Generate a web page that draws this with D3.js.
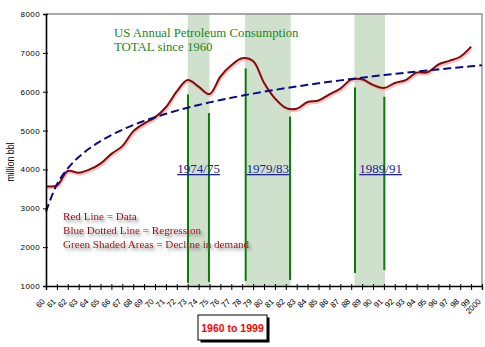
<!DOCTYPE html>
<html><head><meta charset="utf-8">
<script src="https://cdn.jsdelivr.net/npm/d3@7"></script>
<style>body{margin:0;background:#fff;overflow:hidden} svg{display:block}</style>
</head><body>
<script>
// ---- data ----
const years = [1960,1961,1962,1963,1964,1965,1966,1967,1968,1969,1970,1971,1972,1973,1974,1975,1976,1977,1978,1979,1980,1981,1982,1983,1984,1985,1986,1987,1988,1989,1990,1991,1992,1993,1994,1995,1996,1997,1998,1999];
const consumption = [3570,3590,3960,3915,4000,4150,4400,4600,4980,5180,5340,5600,6010,6300,6130,5940,6390,6680,6860,6790,6230,5830,5585,5560,5735,5775,5930,6080,6310,6320,6175,6095,6225,6300,6490,6500,6700,6795,6900,7160];
const regressionYears = [1960,1961,1962,1963,1964,1965,1966,1967,1968,1969,1970,1971,1972,1973,1974,1975,1976,1977,1978,1979,1980,1981,1982,1983,1984,1985,1986,1987,1988,1989,1990,1991,1992,1993,1994,1995,1996,1997,1998,1999,2000];
const regression = [2913,3616,4027,4319,4545,4730,4886,5021,5141,5248,5344,5433,5514,5589,5659,5725,5786,5844,5898,5951,6001,6047,6092,6136,6177,6217,6255,6292,6327,6362,6395,6428,6459,6488,6518,6547,6574,6602,6628,6654,6679];
const yTicks = [1000,2000,3000,4000,5000,6000,7000,8000];
const xTickLabels = ["60","61","62","63","64","65","66","67","68","69","70","71","72","73","74","75","76","77","78","79","80","81","82","83","84","85","86","87","88","89","90","91","92","93","94","95","96","97","98","99","2000"];
const declineStart = [1973, 1978.25, 1988.3];
const declineEnd = [1975, 1982.45, 1991.1];
const declineLabels = ["1974/75","1979/83","1989/91"];
const declineLabelYear = [1974, 1980.35, 1990.7];
const markerYears = [1973.03, 1974.95, 1978.32, 1982.39, 1988.35, 1991.04];
const markerTop = [5930, 5450, 6600, 5360, 6110, 5870];
const markerBottom = [1080, 1100, 1130, 1155, 1335, 1410];
const titleLines = ["US Annual Petroleum Consumption","TOTAL since 1960"];
const legendLines = ["Red Line = Data","Blue Dotted Line = Regression","Green Shaded Areas = Decline in demand"];
const yAxisTitle = "million bbl";
const periodLabel = "1960 to 1999";

// ---- chart ----
const W = 485, H = 347;
const svg = d3.select("body").append("svg").attr("width", W).attr("height", H);
const defs = svg.append("defs");
const f = defs.append("filter").attr("id","tshadow").attr("x","-10%").attr("y","-30%").attr("width","130%").attr("height","180%");
f.append("feDropShadow").attr("dx",2).attr("dy",2.5).attr("stdDeviation",1.4).attr("flood-color","#6f6f6f").attr("flood-opacity",0.85);

const x = d3.scaleLinear().domain([1960, 2000]).range([46, 482]);
const y = d3.scaleLinear().domain([1000, 8000]).range([286, 14]);

// shaded areas
svg.append("g").selectAll("rect").data(declineStart).join("rect")
  .attr("x", d => x(d)).attr("y", y(8000))
  .attr("width", (d,i) => x(declineEnd[i]) - x(d))
  .attr("height", y(1000) - y(8000))
  .attr("fill", "#cfe1cd");

// plot frame (top/right gray)
svg.append("path").attr("d", `M${x(1960)},${y(8000)}H${x(2000)}V${y(1000)}`)
  .attr("fill","none").attr("stroke","#8a8a8a").attr("stroke-width",1.3);

// green marker lines
svg.append("g").selectAll("line").data(markerYears).join("line")
  .attr("x1", d => x(d)).attr("x2", d => x(d))
  .attr("y1", (d,i) => y(markerTop[i])).attr("y2", (d,i) => y(markerBottom[i]))
  .attr("stroke", "#0c7a0c").attr("stroke-width", 2);

// data line
const line = d3.line().x((d,i) => x(years[i])).y(d => y(d)).curve(d3.curveCatmullRom.alpha(0.5));
svg.append("path").datum(consumption).attr("d", line)
  .attr("transform","translate(0.8,1.8)")
  .attr("fill","none").attr("stroke","#eab3b3").attr("stroke-width",2.4).attr("stroke-opacity",0.75);
svg.append("path").datum(consumption).attr("d", line)
  .attr("fill","none").attr("stroke","#850a0a").attr("stroke-width",2);

// regression line
const rline = d3.line().x((d,i) => x(regressionYears[i])).y(d => y(d)).curve(d3.curveCatmullRom.alpha(0.5));
svg.append("path").datum(regression).attr("d", rline)
  .attr("fill","none").attr("stroke","#0a0a85").attr("stroke-width",2)
  .attr("stroke-dasharray","8,4");

// axes
const yAxis = svg.append("g").attr("transform", `translate(${x(1960)},0)`)
  .call(d3.axisLeft(y).tickValues(yTicks).tickSize(3).tickPadding(3).tickFormat(d3.format("d")));
yAxis.select(".domain").attr("stroke","#000").attr("stroke-width",1.6);
yAxis.selectAll(".tick line").attr("x1",2).attr("x2",-3).attr("stroke","#000");
yAxis.selectAll(".tick text").attr("font-family","Liberation Sans, Arial, sans-serif")
  .attr("font-size","8px").attr("letter-spacing","0.4px").attr("fill","#000");

const xAxis = svg.append("g").attr("transform", `translate(0,${y(1000)})`)
  .call(d3.axisBottom(x).tickValues(regressionYears).tickSize(4).tickFormat((d,i) => xTickLabels[i]));
xAxis.select(".domain").attr("stroke","#000").attr("stroke-width",1.4);
xAxis.selectAll(".tick line").attr("y1",-2).attr("y2",4).attr("stroke","#000");
xAxis.selectAll(".tick text")
  .attr("font-family","Liberation Sans, Arial, sans-serif").attr("font-size","8px").attr("fill","#000")
  .attr("text-anchor","end").attr("dy",null).attr("y",null)
  .attr("transform","translate(-1,16) rotate(-45)");

// y axis title
svg.append("text").attr("transform","translate(14,162) rotate(-90)")
  .attr("text-anchor","middle").attr("font-family","Liberation Sans, Arial, sans-serif")
  .attr("font-size","10.5px").attr("textLength",39).attr("lengthAdjust","spacingAndGlyphs")
  .attr("fill","#000").text(yAxisTitle);

// title
svg.append("g").selectAll("text").data(titleLines).join("text")
  .attr("x",114).attr("y",(d,i) => 37 + i*14.3)
  .attr("font-family","Liberation Serif, Times New Roman, serif").attr("font-size","12.8px")
  .attr("fill","#1d861d").text(d => d);

// decline labels
svg.append("g").selectAll("text").data(declineLabels).join("text")
  .attr("x",(d,i) => x(declineLabelYear[i])).attr("y",173)
  .attr("text-anchor","middle")
  .attr("font-family","Liberation Serif, Times New Roman, serif").attr("font-size","13px")
  .attr("text-decoration","underline").attr("fill","#22229a").text(d => d);

// legend text
svg.append("g").attr("filter","url(#tshadow)").selectAll("text").data(legendLines).join("text")
  .attr("x",63).attr("y",(d,i) => 219.5 + i*14)
  .attr("font-family","Liberation Serif, Times New Roman, serif").attr("font-size","11.1px")
  .attr("fill","#a01010").text(d => d);

// period box
const bx = 198, by = 315, bw = 69, bh = 25;
svg.append("rect").attr("x",bx+2.5).attr("y",by+2.5).attr("width",bw).attr("height",bh).attr("fill","#000");
svg.append("rect").attr("x",bx).attr("y",by).attr("width",bw).attr("height",bh)
  .attr("fill","#fff").attr("stroke","#000").attr("stroke-width",1);
svg.append("text").attr("x",bx+bw/2).attr("y",by+16.5).attr("text-anchor","middle")
  .attr("font-family","Liberation Sans, Arial, sans-serif").attr("font-weight","bold")
  .attr("font-size","10.5px").attr("fill","#ff0000").text(periodLabel);
</script>
</body></html>
